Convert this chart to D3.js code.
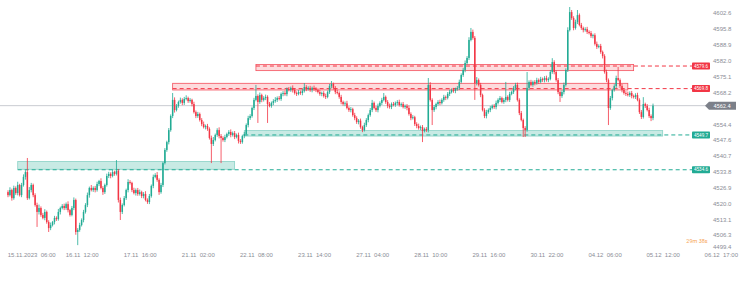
<!DOCTYPE html>
<html>
<head>
<meta charset="utf-8">
<script src="https://cdn.jsdelivr.net/npm/d3@7"></script>
<style>
  body { margin: 0; background: #fff; }
  svg { display: block; font-family: Roboto, "Liberation Sans", sans-serif; }
  .tick text { white-space: pre; }
</style>
</head>
<body>
<div id="chart"></div>
<script>
// hourly candles (open of each bar = previous close)
const firstOpen = 4524.9;
const closes = [
  4523.6, 4525.8, 4522.3, 4526.7, 4524.5, 4528.0, 4523.6, 4528.0, 4531.5, 4533.6, 4522.3, 4525.8, 4528.0, 4523.6, 4519.3, 4516.3, 4518.0, 4515.0, 4513.7, 4516.3,
  4511.9, 4509.3, 4510.6, 4511.9, 4513.7, 4513.2, 4516.3, 4518.0, 4518.9, 4518.0, 4519.7, 4517.1, 4515.0, 4518.0, 4521.5, 4507.6, 4508.5, 4510.6, 4512.8, 4516.3,
  4519.3, 4523.6, 4526.7, 4525.8, 4526.7, 4525.8, 4528.4, 4529.7, 4526.7, 4524.9, 4528.0, 4531.9, 4532.8, 4531.9, 4533.6, 4532.8, 4534.1, 4521.5, 4516.3, 4519.3,
  4522.3, 4525.8, 4529.3, 4528.9, 4525.8, 4524.5, 4525.8, 4524.1, 4524.9, 4523.2, 4524.1, 4521.5, 4520.6, 4523.2, 4527.6, 4531.5, 4532.3, 4530.2, 4524.9, 4528.0,
  4537.5, 4543.2, 4546.6, 4551.8, 4557.9, 4564.9, 4560.5, 4562.3, 4564.0, 4564.9, 4563.6, 4565.3, 4565.7, 4564.4, 4564.9, 4563.1, 4559.6, 4557.9, 4558.8, 4556.2,
  4554.4, 4553.1, 4553.6, 4552.3, 4548.4, 4545.8, 4547.5, 4549.7, 4551.8, 4549.2, 4548.4, 4547.5, 4548.8, 4550.1, 4551.0, 4549.7, 4550.5, 4548.8, 4549.7, 4547.1,
  4546.6, 4549.2, 4550.1, 4554.0, 4557.0, 4557.9, 4561.4, 4564.9, 4566.6, 4564.0, 4567.0, 4564.9, 4565.7, 4566.2, 4563.1, 4562.3, 4563.6, 4564.4, 4564.9, 4565.7,
  4565.3, 4567.5, 4567.9, 4567.4, 4569.6, 4569.2, 4570.1, 4569.2, 4567.9, 4567.5, 4568.3, 4567.9, 4568.8, 4570.5, 4569.6, 4570.1, 4569.2, 4570.1, 4569.6, 4569.2,
  4568.3, 4567.5, 4567.9, 4566.6, 4566.2, 4568.3, 4570.9, 4571.8, 4570.1, 4568.3, 4567.9, 4566.2, 4564.0, 4563.1, 4563.4, 4561.4, 4560.5, 4560.9, 4558.3, 4557.0,
  4555.3, 4555.9, 4553.1, 4551.8, 4554.0, 4556.2, 4558.3, 4560.5, 4563.6, 4561.4, 4560.5, 4562.3, 4563.6, 4564.9, 4566.2, 4564.0, 4562.3, 4561.8, 4563.1, 4562.7,
  4563.6, 4564.0, 4562.7, 4563.1, 4561.8, 4562.3, 4561.4, 4558.8, 4557.0, 4557.4, 4554.4, 4553.6, 4552.7, 4553.1, 4551.4, 4552.3, 4551.8, 4571.4, 4564.9, 4560.5,
  4561.8, 4563.1, 4564.0, 4563.5, 4564.9, 4566.2, 4565.8, 4567.5, 4568.3, 4569.2, 4568.8, 4569.6, 4570.1, 4572.7, 4575.7, 4577.9, 4580.9, 4583.1, 4590.9, 4594.4,
  4591.8, 4572.2, 4573.5, 4571.4, 4567.0, 4560.5, 4557.9, 4559.6, 4560.5, 4561.4, 4562.3, 4561.8, 4563.6, 4564.9, 4565.7, 4564.0, 4564.9, 4566.2, 4564.9, 4567.5,
  4568.3, 4570.1, 4571.4, 4564.9, 4559.2, 4556.2, 4552.7, 4551.8, 4570.1, 4572.7, 4571.4, 4572.7, 4572.2, 4573.5, 4572.7, 4574.0, 4573.5, 4574.4, 4573.5, 4574.0,
  4577.0, 4581.3, 4577.0, 4573.5, 4568.3, 4566.6, 4568.3, 4571.4, 4577.9, 4595.2, 4603.0, 4600.4, 4596.1, 4598.7, 4601.7, 4597.4, 4596.1, 4595.2, 4595.6, 4594.4,
  4593.9, 4592.6, 4593.0, 4589.2, 4587.9, 4588.3, 4585.7, 4583.9, 4577.0, 4573.5, 4561.4, 4565.7, 4569.2, 4570.9, 4574.4, 4573.5, 4570.9, 4569.2, 4567.9, 4567.5,
  4567.0, 4567.9, 4566.6, 4566.2, 4567.0, 4564.9, 4559.6, 4557.5, 4563.1, 4562.3, 4560.5, 4557.9, 4557.0, 4562.4
];
// how far the high pokes above the body / the low below it
const wickHi = [
  0.8, 1.2, 0.6, 1.0, 0.7, 1.4, 0.5, 0.9, 1.1, 0.8, 6.1, 1.3, 0.9, 0.6, 0.8, 1.0, 1.5, 0.7, 0.9, 1.2,
  0.6, 0.8, 1.1, 0.5, 0.9, 0.7, 1.3, 0.6, 0.8, 1.0, 0.7, 1.2, 0.5, 0.9, 1.1, 0.6, 0.8, 1.0, 0.7, 0.9,
  0.8, 1.1, 0.6, 1.3, 0.7, 0.9, 1.0, 0.5, 1.2, 0.8, 0.6, 1.0, 0.9, 0.7, 1.1, 0.6, 4.7, 0.8, 1.0, 0.7,
  0.9, 0.6, 1.2, 0.8, 0.5, 1.0, 0.7, 0.9, 1.1, 0.6, 0.8, 1.2, 0.7, 0.9, 0.6, 1.0, 0.8, 1.3, 0.7, 0.9,
  0.5, 0.8, 0.6, 0.9, 0.7, 3.0, 1.1, 0.8, 0.6, 1.0, 0.7, 0.9, 1.2, 0.6, 0.8, 0.5, 1.0, 0.7, 0.9, 0.6,
  0.8, 1.1, 0.6, 0.9, 0.7, 1.0, 1.3, 0.6, 0.8, 1.2, 0.9, 0.7, 1.0, 0.6, 0.8, 1.1, 0.7, 0.9, 0.6, 1.0,
  0.8, 0.6, 0.9, 0.7, 1.0, 0.8, 0.6, 0.9, 4.8, 0.7, 1.1, 0.6, 0.8, 1.0, 0.7, 0.9, 0.6, 0.8, 1.2, 0.7,
  0.9, 0.6, 0.8, 1.0, 0.7, 0.9, 0.6, 1.1, 0.8, 0.7, 0.9, 0.6, 1.0, 1.7, 0.8, 0.7, 0.9, 0.6, 1.0, 0.8,
  0.7, 0.9, 0.6, 0.8, 1.0, 0.7, 0.9, 1.3, 0.6, 0.8, 1.0, 0.7, 0.9, 0.6, 0.8, 1.1, 0.7, 0.9, 0.6, 1.0,
  0.8, 0.7, 0.9, 0.6, 1.0, 0.8, 0.7, 0.9, 1.3, 0.6, 0.8, 1.0, 0.7, 0.9, 1.7, 0.6, 0.8, 1.0, 0.7, 0.9,
  0.6, 0.8, 1.0, 0.7, 0.9, 0.6, 0.8, 1.1, 0.7, 0.9, 0.6, 0.8, 1.0, 0.7, 0.9, 0.6, 0.8, 3.0, 1.2, 0.7,
  0.9, 0.6, 0.8, 1.0, 0.7, 0.9, 0.6, 0.8, 1.0, 0.7, 0.9, 0.6, 0.8, 1.0, 0.7, 0.9, 1.1, 0.8, 1.2, 1.7,
  1.0, 0.8, 1.3, 0.7, 0.9, 0.6, 0.8, 1.0, 0.7, 0.9, 0.6, 0.8, 1.0, 0.7, 0.9, 0.6, 0.8, 6.5, 0.7, 0.9,
  0.6, 0.8, 0.9, 1.0, 0.7, 0.9, 0.6, 0.8, 6.9, 0.7, 0.9, 0.6, 0.8, 1.0, 0.7, 0.9, 0.6, 0.8, 1.0, 0.7,
  0.9, 1.7, 0.8, 0.7, 0.9, 0.6, 0.8, 1.0, 0.7, 1.2, 2.2, 0.9, 0.8, 1.0, 2.2, 0.7, 0.9, 0.6, 0.8, 1.0,
  0.7, 0.9, 0.6, 0.8, 1.0, 0.7, 0.9, 0.6, 0.8, 1.0, 0.7, 0.9, 0.6, 0.8, 1.0, 4.8, 0.7, 0.9, 0.6, 0.8,
  1.0, 0.7, 0.9, 0.6, 0.8, 1.0, 0.7, 0.9, 3.0, 0.6, 0.8, 1.0, 0.7, 0.9
];
const wickLo = [
  0.9, 0.6, 1.1, 0.7, 0.8, 1.0, 0.6, 0.9, 0.7, 1.2, 0.8, 0.6, 1.0, 0.9, 0.7, 6.5, 1.1, 0.8, 0.6, 1.0,
  0.7, 1.7, 0.9, 0.6, 1.0, 0.8, 0.7, 1.1, 0.6, 0.9, 0.8, 1.0, 0.7, 0.6, 0.9, 1.2, 5.7, 0.8, 0.6, 1.0,
  0.7, 0.9, 1.1, 0.6, 0.8, 1.0, 0.7, 0.9, 0.6, 1.2, 0.8, 0.7, 0.9, 1.0, 0.6, 0.8, 0.7, 1.1, 3.5, 0.9,
  0.6, 0.8, 1.0, 0.7, 0.9, 0.6, 1.1, 0.8, 0.7, 0.9, 1.0, 0.6, 0.8, 0.9, 0.7, 1.0, 0.6, 0.8, 1.2, 0.7,
  0.9, 0.6, 0.8, 1.0, 0.7, 0.9, 1.1, 0.6, 0.8, 0.7, 1.0, 0.9, 0.6, 0.8, 0.7, 1.0, 0.6, 0.9, 0.8, 0.7,
  0.9, 0.6, 1.0, 0.8, 0.7, 8.3, 0.9, 0.6, 0.8, 1.0, 10.9, 0.7, 0.9, 0.6, 0.8, 1.0, 0.7, 0.9, 0.6, 1.1,
  0.8, 0.7, 0.9, 0.6, 1.0, 0.8, 0.7, 0.9, 0.6, 9.1, 0.8, 1.0, 0.7, 0.9, 8.2, 0.6, 0.8, 1.0, 0.7, 0.9,
  0.6, 0.8, 1.0, 0.7, 0.9, 0.6, 0.8, 1.1, 0.7, 0.9, 0.6, 0.8, 1.0, 0.7, 0.9, 0.6, 0.8, 1.0, 0.7, 0.9,
  0.6, 0.8, 1.0, 0.7, 0.9, 0.6, 0.8, 1.0, 0.7, 0.9, 0.6, 0.8, 1.0, 0.7, 0.9, 0.6, 0.8, 1.0, 0.7, 0.9,
  0.8, 1.0, 0.7, 0.9, 0.6, 0.8, 1.0, 0.7, 0.9, 0.6, 0.8, 1.0, 0.7, 0.9, 0.6, 0.8, 1.0, 0.7, 0.9, 0.6,
  0.8, 1.0, 0.7, 0.9, 0.6, 0.8, 1.0, 0.7, 0.9, 0.6, 0.8, 1.0, 0.7, 0.9, 4.8, 0.6, 0.8, 1.0, 0.7, 6.5,
  0.8, 1.0, 0.7, 0.9, 0.6, 0.8, 1.0, 0.7, 0.9, 0.6, 0.8, 1.0, 0.7, 0.9, 0.6, 0.8, 1.0, 0.7, 0.9, 0.6,
  0.8, 7.3, 1.0, 0.7, 0.9, 0.6, 0.9, 1.0, 0.7, 0.9, 0.6, 0.8, 1.0, 0.7, 0.9, 0.6, 0.8, 1.0, 0.7, 0.9,
  0.6, 0.8, 1.0, 0.7, 0.9, 0.6, 3.9, 3.0, 0.7, 0.9, 0.6, 0.8, 1.0, 0.7, 0.9, 0.6, 0.8, 1.0, 0.7, 0.9,
  0.6, 0.8, 1.0, 0.7, 0.9, 2.6, 0.8, 1.0, 0.7, 0.9, 0.6, 0.8, 1.0, 0.7, 0.9, 0.6, 0.8, 1.0, 0.7, 0.9,
  0.6, 0.8, 1.0, 0.7, 0.9, 0.6, 0.8, 1.0, 0.7, 0.9, 7.4, 0.8, 1.0, 0.7, 0.9, 0.6, 0.8, 1.0, 0.7, 0.9,
  0.6, 0.8, 1.0, 0.7, 0.9, 0.6, 0.8, 0.9, 0.7, 0.9, 0.6, 0.8, 1.3, 0.9
];

// supply / demand zones (bar index span, price band, level of the dashed line)
const zoneKind = ['demand', 'demand', 'supply', 'supply'];
const zoneStart = [5, 122, 128, 85];
const zoneEnd = [117, 338, 323, 320];
const zoneTop = [4538.2, 4551.6, 4580.3, 4572.1];
const zoneBottom = [4534.8, 4549.2, 4577.6, 4569.2];
const zoneLevel = [4534.6, 4549.7, 4579.6, 4569.8];

// axes
const priceTicks = [4602.6, 4595.8, 4588.9, 4582.0, 4575.1, 4568.2, 4554.4, 4547.6,
  4540.7, 4533.8, 4526.9, 4520.0, 4513.1, 4506.3, 4499.4];
const timeTickIdx = [12, 38, 68, 98, 128, 158, 188, 218, 248, 278, 308, 338, 368];
const timeLabels = ['15.11.2023  06:00', '16.11  12:00', '17.11  16:00', '21.11  02:00',
  '22.11  08:00', '23.11  14:00', '27.11  04:00', '28.11  10:00', '29.11  16:00',
  '30.11  22:00', '04.12  06:00', '05.12  12:00', '06.12  17:00'];
const lastPrice = 4562.4;
const countdown = '29m 38s';

const width = 753;
const height = 294;
const up = '#22ab94';
const down = '#f23645';

const bars = closes.map((c, i) => {
    const o = i === 0 ? firstOpen : closes[i - 1];
    return {
        i, o, c,
        h: Math.max(o, c) + wickHi[i],
        l: Math.min(o, c) - wickLo[i],
    };
});

const x = d3.scaleLinear().domain([0, closes.length - 1]).range([8, 653]);
const y = d3.scaleLinear().domain([4499.4, 4602.6]).range([250.9, 13]);

const svg = d3.select('#chart').append('svg')
    .attr('width', width)
    .attr('height', height);

// last price line
svg.append('line')
    .attr('x1', 0)
    .attr('x2', 708)
    .attr('y1', y(lastPrice))
    .attr('y2', y(lastPrice))
    .attr('stroke', '#c9cbd1')
    .attr('stroke-width', 1);

// zones
const zones = zoneKind.map((k, i) => ({
    k, s: zoneStart[i], e: zoneEnd[i], top: zoneTop[i], bot: zoneBottom[i], lvl: zoneLevel[i],
}));

svg.selectAll('.zone')
    .data(zones)
    .enter().append('rect')
    .attr('class', 'zone')
    .attr('x', d => x(d.s))
    .attr('y', d => y(d.top))
    .attr('width', d => x(d.e) - x(d.s))
    .attr('height', d => y(d.bot) - y(d.top))
    .attr('fill', d => (d.k === 'demand' ? 'rgba(34,171,148,0.25)' : 'rgba(242,54,69,0.18)'))
    .attr('stroke', d => (d.k === 'demand' ? 'rgba(34,171,148,0.45)' : 'rgba(242,54,69,0.85)'))
    .attr('stroke-width', 0.8);

svg.selectAll('.level')
    .data(zones)
    .enter().append('line')
    .attr('class', 'level')
    .attr('x1', d => x(d.s))
    .attr('x2', 692)
    .attr('y1', d => y(d.lvl))
    .attr('y2', d => y(d.lvl))
    .attr('stroke', d => (d.k === 'demand' ? up : down))
    .attr('stroke-width', 1)
    .attr('stroke-dasharray', '4,3');

// candles
const candle = svg.selectAll('.candle')
    .data(bars)
    .enter().append('g')
    .attr('class', 'candle');

candle.append('line')
    .attr('x1', d => x(d.i))
    .attr('x2', d => x(d.i))
    .attr('y1', d => y(d.h))
    .attr('y2', d => y(d.l))
    .attr('stroke', d => (d.c >= d.o ? up : down))
    .attr('stroke-width', 0.8);

candle.append('rect')
    .attr('x', d => x(d.i) - 0.75)
    .attr('y', d => y(Math.max(d.o, d.c)))
    .attr('width', 1.5)
    .attr('height', d => Math.max(0.7, Math.abs(y(d.o) - y(d.c))))
    .attr('fill', d => (d.c >= d.o ? up : down));

// price axis
const yAxis = svg.append('g')
    .attr('transform', 'translate(712,0)')
    .call(d3.axisRight(y).tickValues(priceTicks).tickSize(0).tickPadding(1)
        .tickFormat(d3.format('.1f')));
yAxis.select('.domain').remove();
yAxis.selectAll('text')
    .attr('fill', '#8a8d96')
    .style('font-size', '6px');
// lowest label sits just above the time axis, as in the reference
yAxis.selectAll('.tick')
    .filter(d => d === 4499.4)
    .select('text')
    .attr('dy', '-0.35em');

// time axis
const xAxis = svg.append('g')
    .attr('transform', 'translate(0,251)')
    .call(d3.axisBottom(x).tickValues(timeTickIdx).tickSize(0).tickPadding(2)
        .tickFormat((d, i) => timeLabels[i]));
xAxis.select('.domain').remove();
xAxis.selectAll('text')
    .attr('fill', '#8a8d96')
    .style('font-size', '6px');

// level tags
const tag = svg.selectAll('.tag')
    .data(zones)
    .enter().append('g')
    .attr('class', 'tag')
    .attr('transform', d => `translate(692,${y(d.lvl)})`);
tag.append('rect')
    .attr('x', 0)
    .attr('y', -3.5)
    .attr('width', 18)
    .attr('height', 7)
    .attr('rx', 0.8)
    .attr('fill', d => (d.k === 'demand' ? up : down));
tag.append('text')
    .attr('x', 9)
    .attr('dy', '0.35em')
    .attr('text-anchor', 'middle')
    .attr('fill', '#fff')
    .style('font-size', '4.6px')
    .text(d => d.lvl.toFixed(1));

// last price tag
const ly = y(lastPrice);
svg.append('path')
    .attr('d', `M705,${ly} L709,${ly - 4} L736,${ly - 4} L736,${ly + 4} L709,${ly + 4} Z`)
    .attr('fill', '#7c8089');
svg.append('text')
    .attr('x', 722)
    .attr('y', ly)
    .attr('dy', '0.35em')
    .attr('text-anchor', 'middle')
    .attr('fill', '#fff')
    .style('font-size', '5.6px')
    .text(lastPrice.toFixed(1));

svg.append('text')
    .attr('x', 697)
    .attr('y', 241)
    .attr('dy', '0.35em')
    .attr('text-anchor', 'middle')
    .attr('fill', '#f7a456')
    .style('font-size', '5.5px')
    .text(countdown);
</script>
</body>
</html>
